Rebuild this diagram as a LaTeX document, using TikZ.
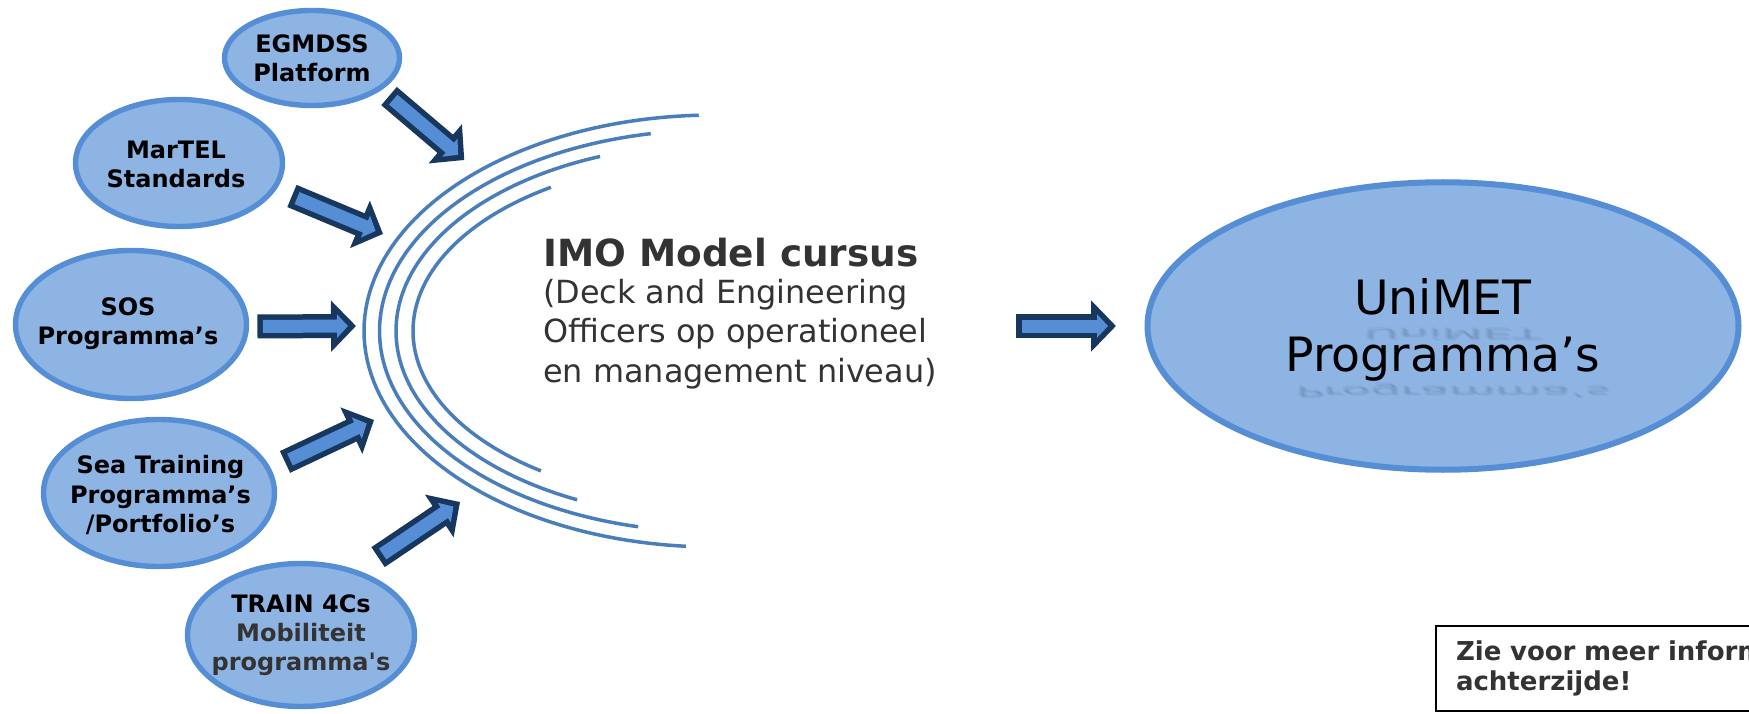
\documentclass[tikz,border=0pt]{standalone}
\usepackage{fontspec}
\setmainfont{DejaVu Sans}
\newfontfamily\plainface{DejaVu Sans}
\usetikzlibrary{shapes.geometric,arrows.meta}
\definecolor{ellfill}{HTML}{8EB4E3}
\definecolor{ellline}{HTML}{558ED5}
\definecolor{arcline}{HTML}{4A7EBB}
\definecolor{arrline}{HTML}{17375E}
\definecolor{textgrey}{HTML}{333333}
\newcommand{\smallbold}{\bfseries\fontsize{24}{29.3}\selectfont}
\newcommand{\bigreg}{\fontsize{47.3}{57.6}\selectfont}
\tikzset{
  x=1pt,y=-1pt,
  source/.style={ellipse,draw=ellline,fill=ellfill,line width=5.4pt,inner sep=0pt,outer sep=0pt},
  srctext/.style={align=center,font=\smallbold,inner sep=0pt},
  arcstroke/.style={draw=arcline,line width=3.5pt,line cap=butt},
  blockarrow/.style 2 args={
    draw=arrline,line width=24pt,line cap=butt,shorten <=#1,shorten >=#2,
    -{Triangle[length=25pt,width=50pt]},
    postaction={draw=ellline,line width=13pt,line cap=butt,shorten <=#1+5.5pt,shorten >=#2+8pt,
      -{Triangle[length=11pt,width=23pt]}}},
}
\begin{document}
\begin{tikzpicture}
\useasboundingbox (0,0) rectangle (1749,714);
\clip (0,0) rectangle (1749,714);
% source ellipses
\node[source,minimum width=175pt,minimum height=95pt,label={[srctext]center:EGMDSS\\Platform}] (eg) at (312,58) {};
\node[source,minimum width=207pt,minimum height=127pt,label={[srctext,xshift=-3pt,yshift=-1.5pt]center:MarTEL\\Standards}] (mt) at (179,163) {};
\node[source,minimum width=231pt,minimum height=148pt,label={[srctext,xshift=-3pt,yshift=1pt]center:SOS\\Programma’s}] (sos) at (131,324.5) {};
\node[source,minimum width=231pt,minimum height=147pt,label={[srctext,xshift=1.5pt,yshift=-2pt]center:Sea Training\\Programma’s\\/Portfolio’s}] (sea) at (159,493) {};
\node[source,minimum width=227pt,minimum height=143pt,label={[srctext]center:TRAIN 4Cs\\\textcolor{textgrey}{Mobiliteit}\\\textcolor{textgrey}{\plainface\bfseries programma's}}] (tr) at (301,635) {};
\node[source,line width=6pt,minimum width=591pt,minimum height=287.5pt,label={[align=center,font=\bigreg,inner sep=0pt,yshift=-4pt]center:UniMET\\Programma’s}] (uni) at (1443,326) {};
% reflection in the large ellipse
\foreach \dx/\dy in {-2/-1.4,-1/-0.7,0/0,1/0.7,2/1.4}{
  \node[opacity=0.032,font=\bigreg,yscale=-0.3,transform shape,anchor=base,inner sep=0pt] at (1453+\dx,329+\dy) {UniMET};
  \node[opacity=0.032,font=\bigreg,yscale=-0.3,transform shape,anchor=base,inner sep=0pt] at (1453+\dx,387+\dy) {Programma’s};
}
% arcs
\draw[arcstroke] plot[domain=92.5:265.4,samples=90] ({714+350*cos(\x)},{331-216*sin(\x)});
\draw[arcstroke] plot[domain=100.9:256.9,samples=90] ({714+334.5*cos(\x)},{331-201*sin(\x)});
\draw[arcstroke] plot[domain=111:244.5,samples=90] ({714+318*cos(\x)},{331-187*sin(\x)});
\draw[arcstroke] plot[domain=122.8:234.9,samples=90] ({714+301*cos(\x)},{331-171*sin(\x)});
% connector ends
\coordinate (t1) at (464.3,160);
\coordinate (t2) at (383,234);
\coordinate (t3) at (356,326);
\coordinate (t4) at (374,420);
\coordinate (t5) at (460,502);
\coordinate (s6) at (1016,326);
% block arrows
\draw[blockarrow={12.3pt}{0pt}] (eg.-24) -- (t1);
\draw[blockarrow={19.6pt}{0pt}] (mt.-15) -- (t2);
\draw[blockarrow={11pt}{0pt}] (sos.-1) -- (t3);
\draw[blockarrow={18.2pt}{0pt}] (sea.12.6) -- (t4);
\draw[blockarrow={27.2pt}{0pt}] (tr.49.7) -- (t5);
\draw[blockarrow={0pt}{31.5pt}] (s6) -- (uni.west);
% central text
\node[anchor=base west,inner sep=0pt,text=textgrey,font=\bfseries\fontsize{37.4}{40}\selectfont] (title) at (543,266.5) {IMO Model cursus};
\node[anchor=north west,inner sep=0pt,text=textgrey,align=left,font=\fontsize{31.9}{39.3}\selectfont] (body) at (543,279) {(Deck and Engineering\\Officers op operationeel\\en management niveau)};
% note box
\node[draw=black,line width=2pt,fill=white,rectangle,anchor=west,inner xsep=20pt,inner ysep=0pt,minimum height=85pt,text width=330pt,align=left,text=textgrey,font=\bfseries\fontsize{26}{30}\selectfont] (note) at (1435,668.5) {Zie voor meer inform\\achterzijde!};
\end{tikzpicture}
\end{document}
